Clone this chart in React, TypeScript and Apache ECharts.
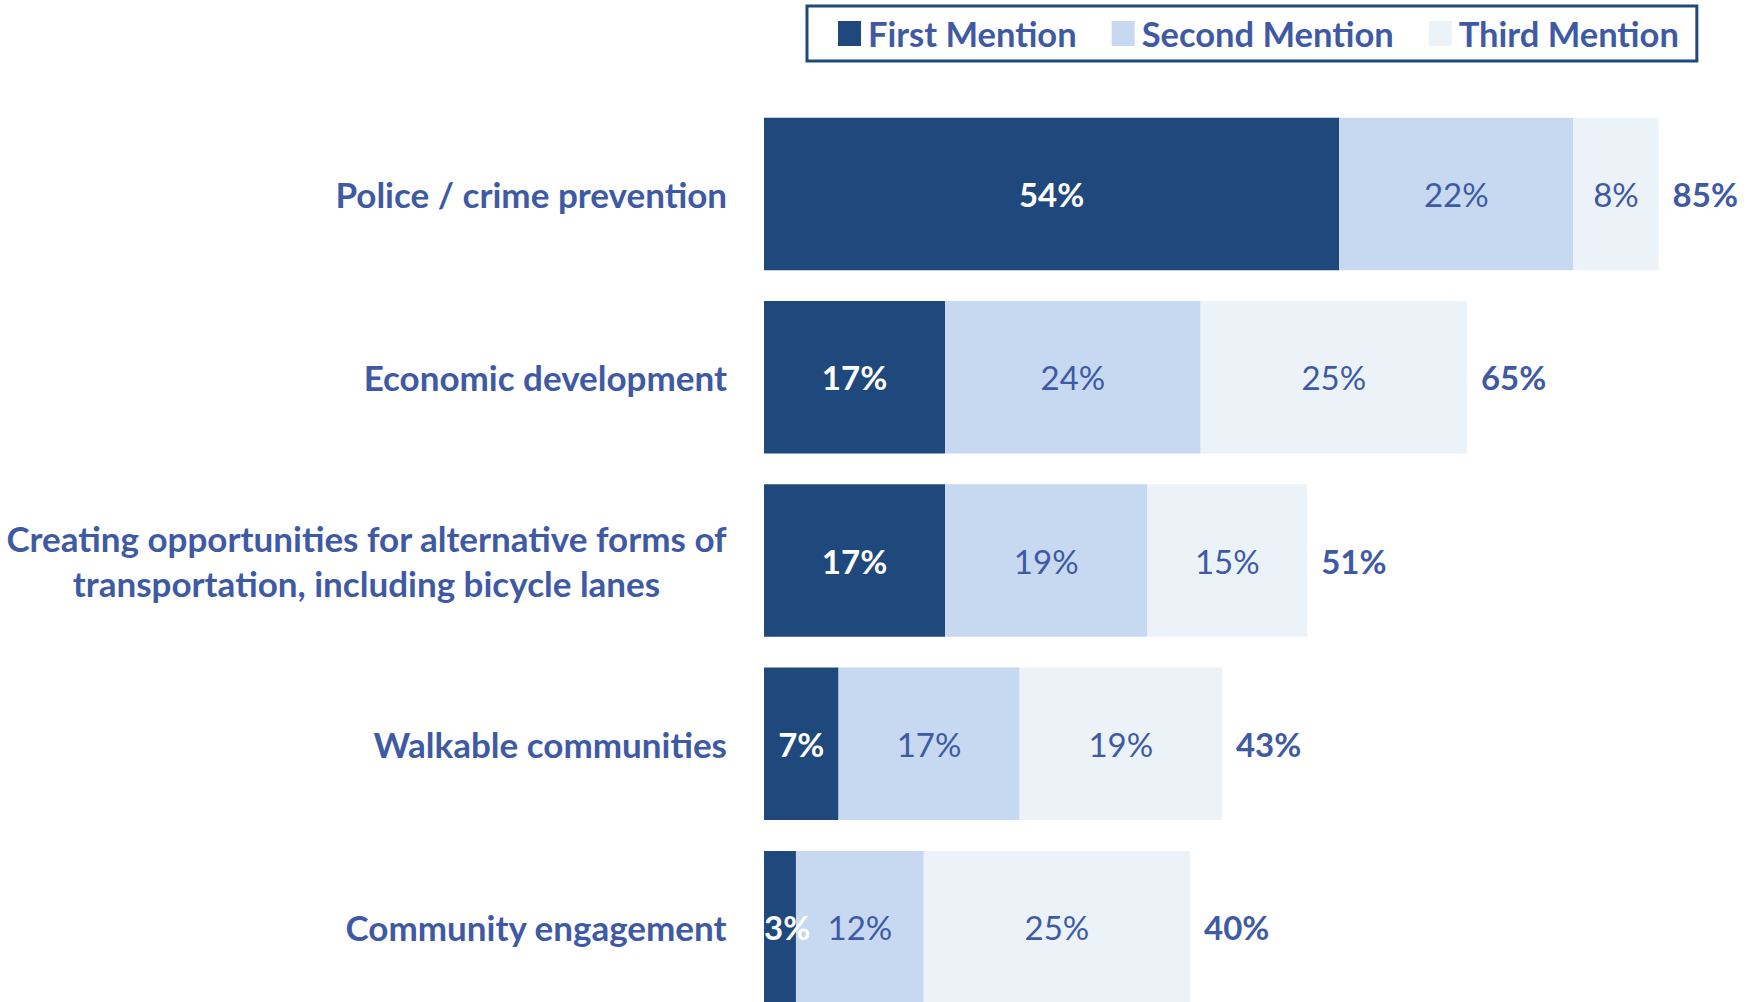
import React, { useEffect, useRef } from "react";
import * as echarts from "echarts";

const categories = [
  "Police / crime prevention",
  "Economic development",
  "Creating opportunities for alternative forms of\ntransportation, including bicycle lanes",
  "Walkable communities",
  "Community engagement",
];
const firstMention = [54, 17, 17, 7, 3];
const secondMention = [22, 24, 19, 17, 12];
const thirdMention = [8, 25, 15, 19, 25];
const totals = [85, 65, 51, 43, 40];
const seriesNames = ["First Mention", "Second Mention", "Third Mention"];

const DARK = "#1F497D";
const MID = "#C6D9F1";
const LIGHT = "#EBF3F9";
const TEXT = "#3F5AA4";
const FONT = "Lato, 'Noto Sans', sans-serif";
const CAT_SIZE = 35;
const VAL_SIZE = 33;
const LEG_SIZE = 34.5;

export default function App() {
  const ref = useRef<HTMLDivElement>(null);
  useEffect(() => {
    if (!ref.current) return;
    const chart = echarts.init(ref.current, undefined, { renderer: "svg" });
    const pct = (p: any) => `${p.value}%`;
    chart.setOption({
      animation: false,
      backgroundColor: "#ffffff",
      legend: {
        data: seriesNames,
        left: 807,
        top: 6,
        orient: "horizontal",
        itemWidth: 23,
        itemHeight: 25,
        itemGap: 35,
        padding: [10, 18, 10, 31],
        borderColor: DARK,
        borderWidth: 3,
        borderRadius: 0,
        icon: "rect",
        textStyle: {
          color: TEXT,
          fontFamily: FONT,
          fontWeight: "bold",
          fontSize: LEG_SIZE,
          padding: [0, 0, 0, 2],
        },
      },
      grid: {
        left: 764,
        top: 102.3,
        width: 958.5,
        height: 916.5,
        containLabel: false,
      },
      xAxis: {
        type: "value",
        min: 0,
        max: 90,
        show: false,
      },
      yAxis: {
        type: "category",
        data: categories,
        inverse: true,
        axisLine: { show: false },
        axisTick: { show: false },
        splitLine: { show: false },
        axisLabel: {
          margin: 37,
          color: TEXT,
          fontFamily: FONT,
          fontWeight: "bold",
          fontSize: CAT_SIZE,
          lineHeight: 45,
          formatter: (v: string) =>
            v
              .split("\n")
              .map((l) => `{c|${l}}`)
              .join("\n"),
          rich: {
            c: {
              align: "center",
              color: TEXT,
              fontFamily: FONT,
              fontWeight: "bold",
              fontSize: CAT_SIZE,
              lineHeight: 45,
            },
          },
        },
      },
      series: [
        {
          name: seriesNames[0],
          type: "bar",
          stack: "all",
          barWidth: 152.5,
          data: firstMention.map((v) =>
            v < 5
              ? { value: v, label: { position: "insideLeft", distance: 0 } }
              : v
          ),
          itemStyle: { color: DARK },
          label: {
            show: true,
            position: "inside",
            formatter: pct,
            color: "#ffffff",
            fontFamily: FONT,
            fontWeight: "bold",
            fontSize: VAL_SIZE,
          },
        },
        {
          name: seriesNames[1],
          type: "bar",
          stack: "all",
          barWidth: 152.5,
          data: secondMention,
          itemStyle: { color: MID },
          label: {
            show: true,
            position: "inside",
            formatter: pct,
            color: TEXT,
            fontFamily: FONT,
            fontWeight: "normal",
            fontSize: VAL_SIZE,
          },
        },
        {
          name: seriesNames[2],
          type: "bar",
          stack: "all",
          barWidth: 152.5,
          data: thirdMention,
          itemStyle: { color: LIGHT },
          label: {
            show: true,
            position: "inside",
            formatter: pct,
            color: TEXT,
            fontFamily: FONT,
            fontWeight: "normal",
            fontSize: VAL_SIZE,
          },
        },
        {
          name: "Total",
          type: "bar",
          stack: "all",
          barWidth: 152.5,
          data: totals.map(() => 0),
          itemStyle: { color: "transparent" },
          label: {
            show: true,
            position: "right",
            distance: 14,
            formatter: (p: any) => `${totals[p.dataIndex]}%`,
            color: TEXT,
            fontFamily: FONT,
            fontWeight: "bold",
            fontSize: VAL_SIZE,
          },
          tooltip: { show: false },
        },
      ],
    });
    return () => chart.dispose();
  }, []);
  return (
    <div
      ref={ref}
      style={{ position: "fixed", left: 0, top: 0, width: 1758, height: 1020 }}
    />
  );
}
